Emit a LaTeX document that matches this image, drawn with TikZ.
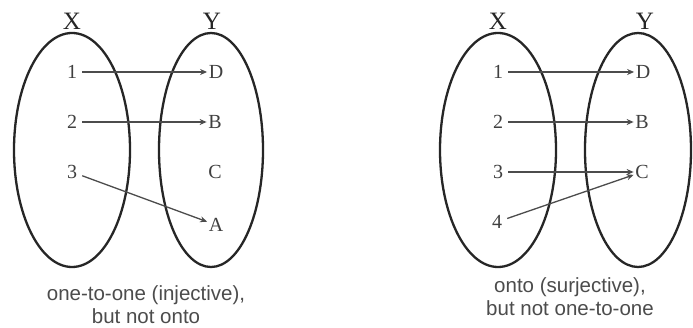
\documentclass[tikz,border=0pt]{standalone}
\usepackage{fontspec}
\setmainfont{Liberation Serif}
\setsansfont{Liberation Sans}
\usetikzlibrary{arrows.meta}
\begin{document}
\begin{tikzpicture}[x=1pt,y=-1pt,
  setbox/.style={draw=black!85,line width=2.3pt},
  setname/.style={font=\fontsize{25}{27}\selectfont,inner sep=0pt,text=black!85},
  dom/.style={font=\fontsize{20}{22}\selectfont,inner ysep=0pt,inner xsep=5pt,text=black!75},
  cod/.style={font=\fontsize{20}{22}\selectfont,inner ysep=0pt,inner xsep=1.5pt,text=black!75},
  maparrow/.style={draw=black!70,line width=1.3pt,-{Stealth[length=7pt,width=6pt]}},
  caption/.style={font=\sffamily\fontsize{20.5}{23}\selectfont,align=center,text=black!70,inner sep=0pt}]
\useasboundingbox (0,0) rectangle (693,328);
\fill[white] (0,0) rectangle (693,328);
% left diagram
\draw[setbox] (72,150) ellipse [x radius=58, y radius=117];
\draw[setbox] (211,150) ellipse [x radius=52, y radius=117];
\node[setname] (lx) at (72,21) {X};
\node[setname] (ly) at (212,21) {Y};
\node[dom] (l1) at (72,72) {1};
\node[dom] (l2) at (72,122) {2};
\node[dom] (l3) at (72,172) {3};
\node[cod] (lD) at (216,72) {D};
\node[cod] (lB) at (215,122) {B};
\node[cod] (lC) at (215,172) {C};
\node[cod] (lA) at (216,225) {A};
\draw[maparrow] (l1) -- (lD);
\draw[maparrow] (l2) -- (lB);
\draw[maparrow] (l3) -- (lA);
\node[caption] (lcap) at (146,305) {one-to-one (injective),\\but not onto};
% right diagram
\draw[setbox] (498,150) ellipse [x radius=58, y radius=117];
\draw[setbox] (638,150) ellipse [x radius=53, y radius=117];
\node[setname] (rx) at (498,21) {X};
\node[setname] (ry) at (645,21) {Y};
\node[dom] (r1) at (498,72) {1};
\node[dom] (r2) at (498,122) {2};
\node[dom] (r3) at (498,172) {3};
\node[dom] (r4) at (497,222) {4};
\node[cod] (rD) at (643,72) {D};
\node[cod] (rB) at (642,122) {B};
\node[cod] (rC) at (642,172) {C};
\draw[maparrow] (r1) -- (rD);
\draw[maparrow] (r2) -- (rB);
\draw[maparrow] (r3) -- (rC);
\draw[maparrow] (r4) -- (rC);
\node[caption] (rcap) at (570,297) {onto (surjective),\\but not one-to-one};
\end{tikzpicture}
\end{document}
